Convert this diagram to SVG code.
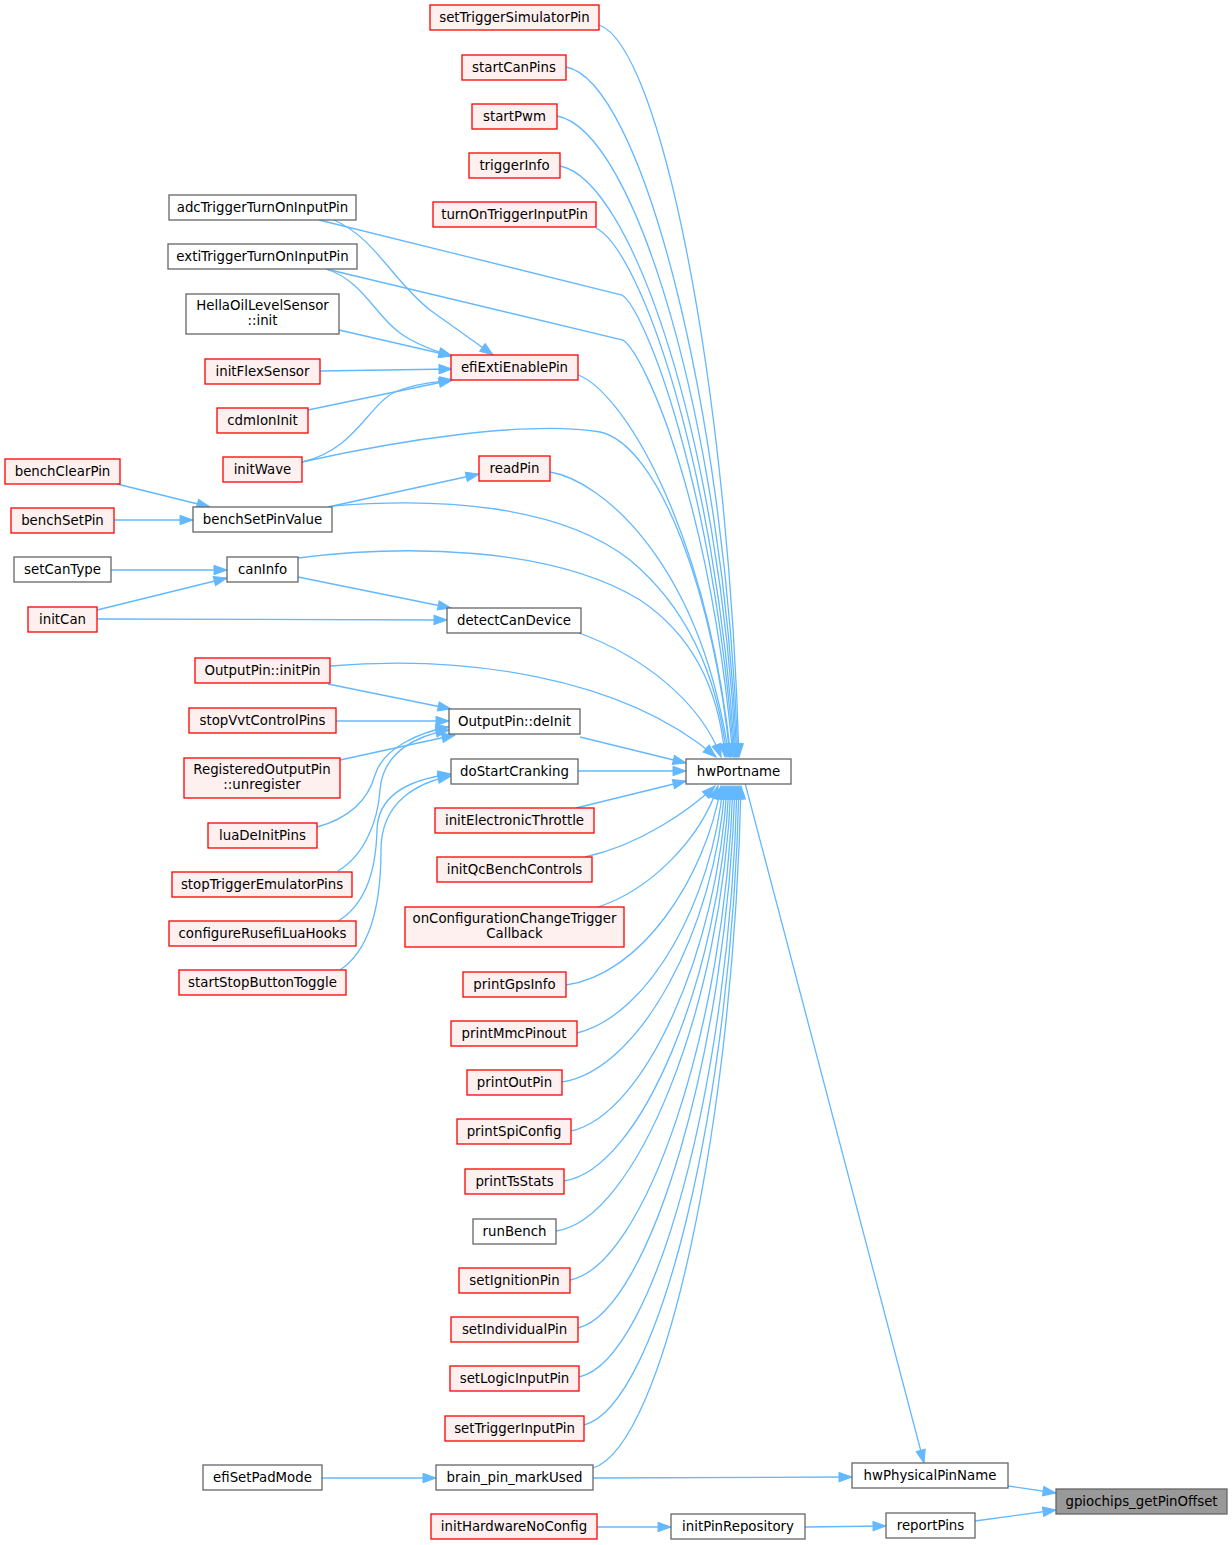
<svg xmlns="http://www.w3.org/2000/svg" width="1232" height="1545" viewBox="0 0 1232 1545">
<defs>
<style>
rect{stroke-width:1.3}
.r rect{fill:#FFF0F0;stroke:#FF0000}
.g rect{fill:#FFFFFF;stroke:#666666}
.k rect{fill:#999999;stroke:#666666}
text{font-family:"DejaVu Sans","Liberation Sans",sans-serif;font-size:13.33px;text-anchor:middle;fill:#000}
#edges path{fill:none;stroke:#63B8FF;stroke-width:1.3;marker-end:url(#a)}
</style>
<marker id="a" markerUnits="userSpaceOnUse" markerWidth="16" markerHeight="12" refX="13" refY="5" orient="auto" overflow="visible">
<path d="M0,0.3 L13,5 L0,9.7 Z" fill="#63B8FF" stroke="#63B8FF" stroke-width="1"/>
</marker>
</defs>
<rect width="1232" height="1545" fill="#FFFFFF"/>
<g id="edges">
<path d="M1008,1486 L1056,1493"/>
<path d="M975,1521 L1056,1510"/>
<path d="M745,783 L924,1463"/>
<path d="M593,1478 L852,1477"/>
<path d="M805,1527 L886,1526"/>
<path d="M597,1527 L671,1527"/>
<path d="M322,1478 L436,1478"/>
<path d="M599,25 C660,45 728,380 739,757"/>
<path d="M566,67 C640,80 725,400 738,757"/>
<path d="M557,116 C635,130 722,420 737,757"/>
<path d="M560,166 C632,180 720,440 736,757"/>
<path d="M596,228 C640,250 715,460 735,757"/>
<path d="M319,220 L622,295 C645,310 712,480 734,757"/>
<path d="M326,269 L623,340 C645,355 710,500 733,757"/>
<path d="M578,375 C620,390 705,520 731,757"/>
<path d="M302,462 C400,440 530,420 600,432 C660,445 715,600 730,757"/>
<path d="M550,472 C600,480 700,560 729,757"/>
<path d="M332,506 C440,497 560,505 630,560 C690,610 718,680 727,757"/>
<path d="M298,558 C400,545 550,545 640,600 C700,640 720,700 725,757"/>
<path d="M579,633 C640,655 700,700 721,757"/>
<path d="M330,666 C460,655 620,675 716,757"/>
<path d="M580,737 L686,763"/>
<path d="M578,771 L686,771"/>
<path d="M576,808 L686,781"/>
<path d="M585,857 C640,845 690,810 715,786"/>
<path d="M598,907 C650,890 700,840 718,786"/>
<path d="M566,985 C640,975 705,880 721,786"/>
<path d="M577,1033 C650,1015 712,900 723,786"/>
<path d="M562,1082 C640,1070 715,930 725,786"/>
<path d="M571,1131 C645,1115 718,950 727,786"/>
<path d="M564,1181 C640,1170 720,980 729,786"/>
<path d="M556,1231 C635,1220 722,1010 731,786"/>
<path d="M570,1280 C645,1265 725,1030 733,786"/>
<path d="M578,1328 C650,1310 727,1050 735,786"/>
<path d="M579,1377 C655,1360 730,1080 737,786"/>
<path d="M584,1425 C660,1405 732,1100 739,786"/>
<path d="M593,1468 C665,1445 734,1120 741,786"/>
<path d="M334,220 C375,238 392,280 430,310 L493,355"/>
<path d="M326,269 C362,280 375,315 400,333 C418,346 438,352 452,356"/>
<path d="M339,330 L452,356"/>
<path d="M320,371 L452,369"/>
<path d="M308,410 L452,380"/>
<path d="M302,462 C355,450 368,405 395,392 C415,384 435,382 453,380"/>
<path d="M117,484 L210,507"/>
<path d="M114,520 L193,520"/>
<path d="M328,507 L479,474"/>
<path d="M111,570 L227,570"/>
<path d="M97,610 L227,578"/>
<path d="M298,577 L451,608"/>
<path d="M97,619 L447,620"/>
<path d="M328,684 L451,709"/>
<path d="M336,721 L449,721"/>
<path d="M340,760 L455,735"/>
<path d="M317,827 C350,818 368,800 375,775 C383,748 420,732 449,727"/>
<path d="M338,871 C365,855 378,820 380,790 C383,750 420,735 449,730"/>
<path d="M338,921 C365,905 376,870 377,830 C378,790 420,778 451,774"/>
<path d="M340,970 C370,950 381,905 381,850 C381,800 420,782 451,776"/>
</g>
<g id="gpiochips_getPinOffset" class="k"><rect x="1056" y="1489" width="171" height="25"/><text x="1141.5" y="1506">gpiochips_getPinOffset</text></g>
<g id="hwPhysicalPinName" class="g"><rect x="852" y="1463" width="156" height="25"/><text x="930" y="1480">hwPhysicalPinName</text></g>
<g id="reportPins" class="g"><rect x="886" y="1513" width="89" height="25"/><text x="930.5" y="1530">reportPins</text></g>
<g id="hwPortname" class="g"><rect x="686" y="759" width="105" height="25"/><text x="738.5" y="776">hwPortname</text></g>
<g id="initPinRepository" class="g"><rect x="671" y="1514" width="134" height="25"/><text x="738" y="1531">initPinRepository</text></g>
<g id="setTriggerSimulatorPin" class="r"><rect x="430" y="5" width="169" height="25"/><text x="514.5" y="22">setTriggerSimulatorPin</text></g>
<g id="startCanPins" class="r"><rect x="462" y="55" width="104" height="25"/><text x="514" y="72">startCanPins</text></g>
<g id="startPwm" class="r"><rect x="472" y="104" width="85" height="25"/><text x="514.5" y="121">startPwm</text></g>
<g id="triggerInfo" class="r"><rect x="469" y="153" width="91" height="25"/><text x="514.5" y="170">triggerInfo</text></g>
<g id="turnOnTriggerInputPin" class="r"><rect x="433" y="202" width="163" height="25"/><text x="514.5" y="219">turnOnTriggerInputPin</text></g>
<g id="efiExtiEnablePin" class="r"><rect x="451" y="355" width="127" height="25"/><text x="514.5" y="372">efiExtiEnablePin</text></g>
<g id="readPin" class="r"><rect x="479" y="456" width="71" height="25"/><text x="514.5" y="473">readPin</text></g>
<g id="detectCanDevice" class="g"><rect x="447" y="608" width="134" height="25"/><text x="514" y="625">detectCanDevice</text></g>
<g id="OutputPin_deInit" class="g"><rect x="449" y="709" width="131" height="25"/><text x="514.5" y="726">OutputPin::deInit</text></g>
<g id="doStartCranking" class="g"><rect x="451" y="759" width="127" height="25"/><text x="514.5" y="776">doStartCranking</text></g>
<g id="initElectronicThrottle" class="r"><rect x="435" y="808" width="159" height="25"/><text x="514.5" y="825">initElectronicThrottle</text></g>
<g id="initQcBenchControls" class="r"><rect x="437" y="857" width="155" height="25"/><text x="514.5" y="874">initQcBenchControls</text></g>
<g id="onConfigurationChangeTriggerCallback" class="r"><rect x="405" y="907" width="219" height="40"/><text x="514.5" y="923">onConfigurationChangeTrigger</text><text x="514.5" y="938">Callback</text></g>
<g id="printGpsInfo" class="r"><rect x="463" y="972" width="103" height="25"/><text x="514.5" y="989">printGpsInfo</text></g>
<g id="printMmcPinout" class="r"><rect x="451" y="1021" width="126" height="25"/><text x="514" y="1038">printMmcPinout</text></g>
<g id="printOutPin" class="r"><rect x="467" y="1070" width="95" height="25"/><text x="514.5" y="1087">printOutPin</text></g>
<g id="printSpiConfig" class="r"><rect x="457" y="1119" width="114" height="25"/><text x="514" y="1136">printSpiConfig</text></g>
<g id="printTsStats" class="r"><rect x="465" y="1169" width="99" height="25"/><text x="514.5" y="1186">printTsStats</text></g>
<g id="runBench" class="g"><rect x="473" y="1219" width="83" height="25"/><text x="514.5" y="1236">runBench</text></g>
<g id="setIgnitionPin" class="r"><rect x="459" y="1268" width="111" height="25"/><text x="514.5" y="1285">setIgnitionPin</text></g>
<g id="setIndividualPin" class="r"><rect x="451" y="1317" width="127" height="25"/><text x="514.5" y="1334">setIndividualPin</text></g>
<g id="setLogicInputPin" class="r"><rect x="450" y="1366" width="129" height="25"/><text x="514.5" y="1383">setLogicInputPin</text></g>
<g id="setTriggerInputPin" class="r"><rect x="445" y="1416" width="139" height="25"/><text x="514.5" y="1433">setTriggerInputPin</text></g>
<g id="brain_pin_markUsed" class="g"><rect x="436" y="1465" width="157" height="25"/><text x="514.5" y="1482">brain_pin_markUsed</text></g>
<g id="initHardwareNoConfig" class="r"><rect x="431" y="1514" width="166" height="25"/><text x="514" y="1531">initHardwareNoConfig</text></g>
<g id="adcTriggerTurnOnInputPin" class="g"><rect x="169" y="195" width="187" height="25"/><text x="262.5" y="212">adcTriggerTurnOnInputPin</text></g>
<g id="extiTriggerTurnOnInputPin" class="g"><rect x="168" y="244" width="189" height="25"/><text x="262.5" y="261">extiTriggerTurnOnInputPin</text></g>
<g id="HellaOilLevelSensor_init" class="g"><rect x="186" y="294" width="153" height="40"/><text x="262.5" y="310">HellaOilLevelSensor</text><text x="262.5" y="325">::init</text></g>
<g id="initFlexSensor" class="r"><rect x="205" y="359" width="115" height="25"/><text x="262.5" y="376">initFlexSensor</text></g>
<g id="cdmIonInit" class="r"><rect x="217" y="408" width="91" height="25"/><text x="262.5" y="425">cdmIonInit</text></g>
<g id="initWave" class="r"><rect x="223" y="457" width="79" height="25"/><text x="262.5" y="474">initWave</text></g>
<g id="benchSetPinValue" class="g"><rect x="193" y="507" width="139" height="25"/><text x="262.5" y="524">benchSetPinValue</text></g>
<g id="canInfo" class="g"><rect x="227" y="557" width="71" height="25"/><text x="262.5" y="574">canInfo</text></g>
<g id="OutputPin_initPin" class="r"><rect x="195" y="658" width="135" height="25"/><text x="262.5" y="675">OutputPin::initPin</text></g>
<g id="stopVvtControlPins" class="r"><rect x="189" y="708" width="147" height="25"/><text x="262.5" y="725">stopVvtControlPins</text></g>
<g id="RegisteredOutputPin_unregister" class="r"><rect x="184" y="758" width="156" height="40"/><text x="262" y="774">RegisteredOutputPin</text><text x="262" y="789">::unregister</text></g>
<g id="luaDeInitPins" class="r"><rect x="208" y="823" width="109" height="25"/><text x="262.5" y="840">luaDeInitPins</text></g>
<g id="stopTriggerEmulatorPins" class="r"><rect x="172" y="872" width="180" height="25"/><text x="262" y="889">stopTriggerEmulatorPins</text></g>
<g id="configureRusefiLuaHooks" class="r"><rect x="169" y="921" width="187" height="25"/><text x="262.5" y="938">configureRusefiLuaHooks</text></g>
<g id="startStopButtonToggle" class="r"><rect x="179" y="970" width="167" height="25"/><text x="262.5" y="987">startStopButtonToggle</text></g>
<g id="efiSetPadMode" class="g"><rect x="203" y="1465" width="119" height="25"/><text x="262.5" y="1482">efiSetPadMode</text></g>
<g id="benchClearPin" class="r"><rect x="5" y="459" width="115" height="25"/><text x="62.5" y="476">benchClearPin</text></g>
<g id="benchSetPin" class="r"><rect x="11" y="508" width="103" height="25"/><text x="62.5" y="525">benchSetPin</text></g>
<g id="setCanType" class="g"><rect x="14" y="557" width="97" height="25"/><text x="62.5" y="574">setCanType</text></g>
<g id="initCan" class="r"><rect x="28" y="607" width="69" height="25"/><text x="62.5" y="624">initCan</text></g>
</svg>
